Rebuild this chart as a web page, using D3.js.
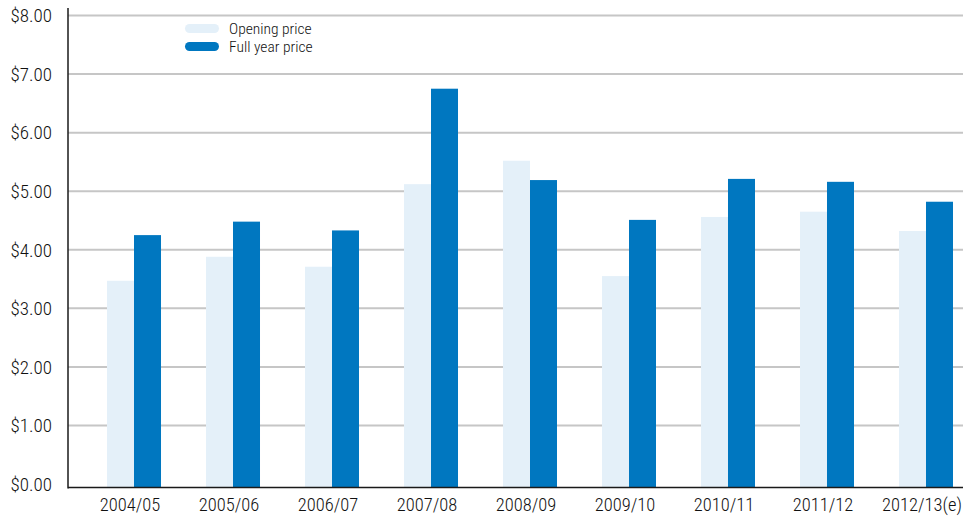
<!DOCTYPE html>
<html>
<head>
<meta charset="utf-8">
<script src="https://cdn.jsdelivr.net/npm/d3@7/dist/d3.min.js"></script>
<style>
  html, body { margin: 0; padding: 0; background: #fff; }
  svg text { font-family: 'Roboto Condensed', 'Liberation Sans Narrow', 'Arial Narrow', sans-serif; font-weight: 300; fill: #111; }
</style>
</head>
<body>
<svg id="chart" width="963" height="517"></svg>
<script>
const categories = ["2004/05","2005/06","2006/07","2007/08","2008/09","2009/10","2010/11","2011/12","2012/13(e)"];
const openingPrice = [3.47, 3.88, 3.71, 5.12, 5.52, 3.55, 4.56, 4.65, 4.32];
const fullYearPrice = [4.25, 4.48, 4.33, 6.75, 5.19, 4.51, 5.21, 5.16, 4.82];
const yTicks = [0, 1, 2, 3, 4, 5, 6, 7, 8];
const seriesNames = ["Opening price", "Full year price"];
const colors = ["#e4f0f9", "#0077c0"];

const svg = d3.select("#chart");
const W = 963, H = 517;
const left = 68, axisY = 487.5;

const y = d3.scaleLinear().domain([0, 8]).range([484, 15.5]);
const x = d3.scaleBand().domain(categories).range([84.5, 975.5])
  .paddingInner(0.4545).paddingOuter(0.2273);
const xs = d3.scaleBand().domain([0, 1]).range([0, x.bandwidth()]);

// gridlines
svg.append("g").selectAll("line").data(yTicks.filter(d => d > 0)).join("line")
  .attr("x1", left).attr("x2", W)
  .attr("y1", d => y(d)).attr("y2", d => y(d))
  .attr("stroke", "#c6c6c6").attr("stroke-width", 2);

// bars
const groups = svg.append("g").selectAll("g").data(categories).join("g")
  .attr("transform", d => `translate(${x(d)},0)`);
groups.each(function(c, i) {
  const vals = [openingPrice[i], fullYearPrice[i]];
  d3.select(this).selectAll("rect").data(vals).join("rect")
    .attr("x", (v, j) => xs(j))
    .attr("width", xs.bandwidth())
    .attr("y", v => y(v))
    .attr("height", v => axisY - y(v))
    .attr("fill", (v, j) => colors[j]);
});

// axes lines
svg.append("line").attr("x1", left).attr("x2", left).attr("y1", 8).attr("y2", axisY + 1)
  .attr("stroke", "#1a1a1a").attr("stroke-width", 1.5);
svg.append("line").attr("x1", left).attr("x2", W).attr("y1", axisY).attr("y2", axisY)
  .attr("stroke", "#1a1a1a").attr("stroke-width", 1.5);

// y labels
svg.append("g").selectAll("text").data(yTicks).join("text")
  .attr("x", 52).attr("y", d => y(d)).attr("dy", "0.36em")
  .attr("text-anchor", "end").attr("font-size", 19)
  .text(d => "$" + d3.format(".2f")(d));

// x labels
svg.append("g").selectAll("text").data(categories).join("text")
  .attr("x", d => x(d) + x.bandwidth() / 2 - 4)
  .attr("y", 511)
  .attr("text-anchor", "middle").attr("font-size", 18.5)
  .text(d => d);

// legend
const legend = svg.append("g").attr("transform", "translate(185,24)");
seriesNames.forEach((n, i) => {
  const g = legend.append("g").attr("transform", `translate(0,${i * 18})`);
  g.append("rect").attr("x", 0).attr("y", 0).attr("width", 34).attr("height", 9)
    .attr("rx", 4.5).attr("fill", colors[i]);
  g.append("text").attr("x", 44).attr("y", 10).attr("font-size", 15.5).text(n);
});
</script>
</body>
</html>
